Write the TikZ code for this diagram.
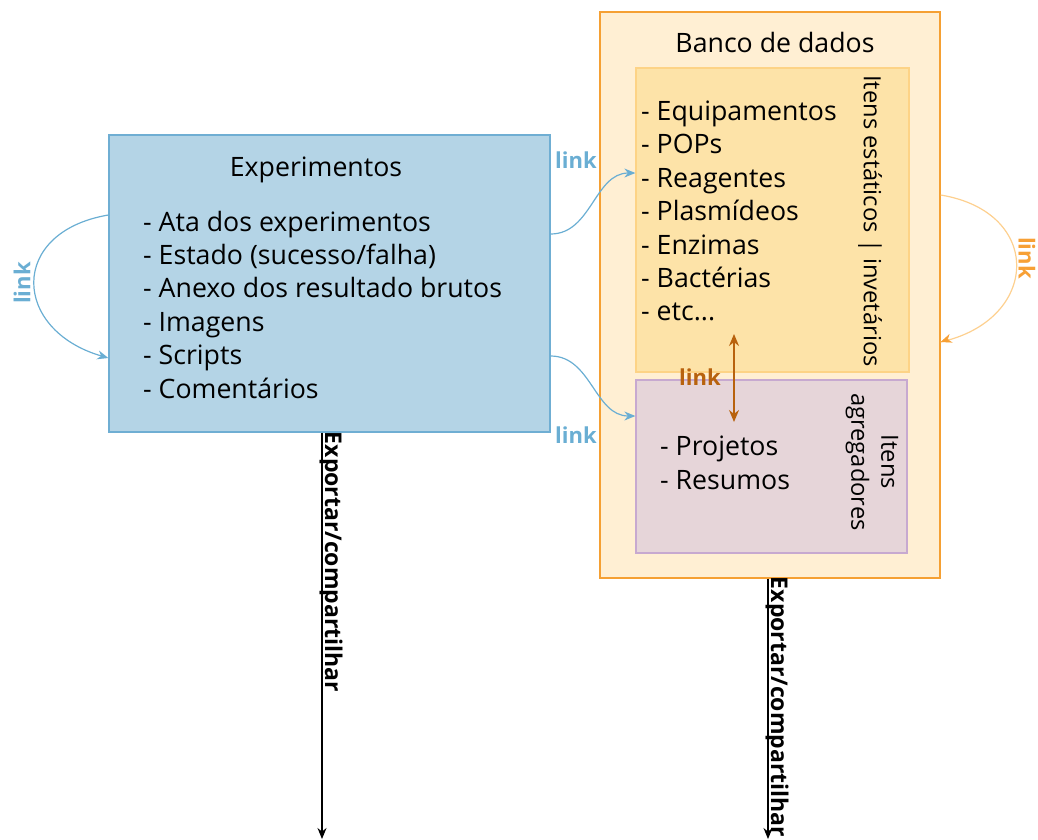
\documentclass[tikz,border=0pt]{standalone}
\usepackage{fontspec}
\setmainfont{Open Sans}
\usetikzlibrary{arrows.meta}

\definecolor{expfill}{HTML}{B4D4E6}
\definecolor{expline}{HTML}{6FAED3}
\definecolor{bancofill}{HTML}{FFEFD3}
\definecolor{bancoline}{HTML}{F5A033}
\definecolor{estfill}{HTML}{FDE3A8}
\definecolor{estline}{HTML}{FDD386}
\definecolor{agrfill}{HTML}{E6D5D9}
\definecolor{agrline}{HTML}{C7A9D0}
\definecolor{linkblue}{HTML}{6AAED3}
\definecolor{linkorange}{HTML}{F7A035}
\definecolor{linklight}{HTML}{FDD08F}
\definecolor{linkbrown}{HTML}{B8620E}

\begin{document}
\begin{tikzpicture}[%
      x=1pt, y=-1pt,
      box/.style={draw, line width=1.3pt, inner sep=0pt},
      txt/.style={font=\fontsize{26.7}{33.4}\selectfont, align=left, inner sep=0pt},
      sidetxt/.style={font=\fontsize{23.7}{30}\selectfont, align=center, inner sep=0pt, rotate=-90},
      linklabel/.style={font=\fontsize{22}{24}\selectfont\bfseries, inner sep=0pt},
      export/.style={font=\fontsize{23}{26}\selectfont\bfseries, inner sep=0pt, anchor=base, rotate=-90},
      ]
      \useasboundingbox (0,0) rectangle (1038,839);

      % caixas
      \node [box, fill=expfill, draw=expline, minimum width=441pt, minimum height=297pt] (exp) at (329.5,283.5) {};
      \node [box, fill=bancofill, draw=bancoline, minimum width=340pt, minimum height=566pt] (banco) at (770,295) {};
      \node [box, fill=estfill, draw=estline, minimum width=273pt, minimum height=304pt] (est) at (772.5,220) {};
      \node [box, fill=agrfill, draw=agrline, minimum width=271pt, minimum height=173pt] (agr) at (771.5,466.5) {};

      % textos
      \node [txt] (exptitle) at (316,170) {Experimentos};
      \node [txt, anchor=west] (explist) at (143,304.5) {- Ata dos experimentos\\- Estado (sucesso/falha)\\- Anexo dos resultado brutos\\- Imagens\\- Scripts\\- Comentários};
      \node [txt] (bancotitle) at (775,42) {Banco de dados};
      \node [txt, anchor=west] (estlist) at (641,211) {- Equipamentos\\- POPs\\- Reagentes\\- Plasmídeos\\- Enzimas\\- Bactérias\\- etc...};
      \node [sidetxt] (esttitle) at (870,221) {Itens estáticos | invetários};
      \node [txt, anchor=west] (agrlist) at (660,463) {- Projetos\\- Resumos};
      \node [sidetxt] (agrtitle) at (872,462) {Itens\\agregadores};

      % ligacoes
      \coordinate (loopa) at (exp.west |- 0,215);
      \coordinate (loopb) at (exp.west |- 0,358);
      \draw [color=linkblue, line width=1.2pt, -{Stealth[length=11pt,width=9pt]}] (loopa) .. controls (8,232) and (12,330) .. (loopb);
      \node [linklabel, color=linkblue, rotate=90] (linka) at (22,283) {link};

      \coordinate (upa) at (exp.east |- 0,234);
      \coordinate (upb) at (est.west |- 0,173);
      \draw [color=linkblue, line width=1.2pt, -{Stealth[length=11pt,width=9pt]}] (upa) to[out=0,in=180] (upb);
      \node [linklabel, color=linkblue] (linkb) at (576,160) {link};

      \coordinate (dna) at (exp.east |- 0,356);
      \coordinate (dnb) at (agr.west |- 0,416);
      \draw [color=linkblue, line width=1.2pt, -{Stealth[length=11pt,width=9pt]}] (dna) to[out=0,in=180] (dnb);
      \node [linklabel, color=linkblue] (linkc) at (576,435) {link};

      \coordinate (ra) at (banco.east |- 0,195);
      \coordinate (rb) at (banco.east |- 0,342);
      \draw [color=linklight, line width=1.2pt] (ra) .. controls (1044,212) and (1040,320) .. (rb);
      \draw [color=linkorange, -{Stealth[length=11pt,width=9pt]}] (949,339) -- (rb);
      \node [linklabel, color=linkorange, rotate=-90] (linkd) at (1027,258) {link};

      \coordinate (ma) at (734,334);
      \coordinate (mb) at (734,422);
      \draw [color=linkbrown, line width=1.3pt, {Stealth[length=12pt,width=10pt]}-{Stealth[length=12pt,width=10pt]}] (ma) -- (mb);
      \node [linklabel, color=linkbrown] (linke) at (700,377) {link};

      % exportar
      \coordinate (expend) at (322,839);
      \coordinate (bancoend) at (768,839);
      \draw [line width=1.2pt, -{Stealth[length=11pt,width=9pt]}] (exp.south -| expend) -- (expend);
      \draw [line width=1.2pt, -{Stealth[length=11pt,width=9pt]}] (banco.south -| bancoend) -- (bancoend);
      \node [export] (expa) at (325,562) {Exportar/compartilhar};
      \node [export] (expb) at (771,707) {Exportar/compartilhar};
      \end{tikzpicture}
\end{document}
